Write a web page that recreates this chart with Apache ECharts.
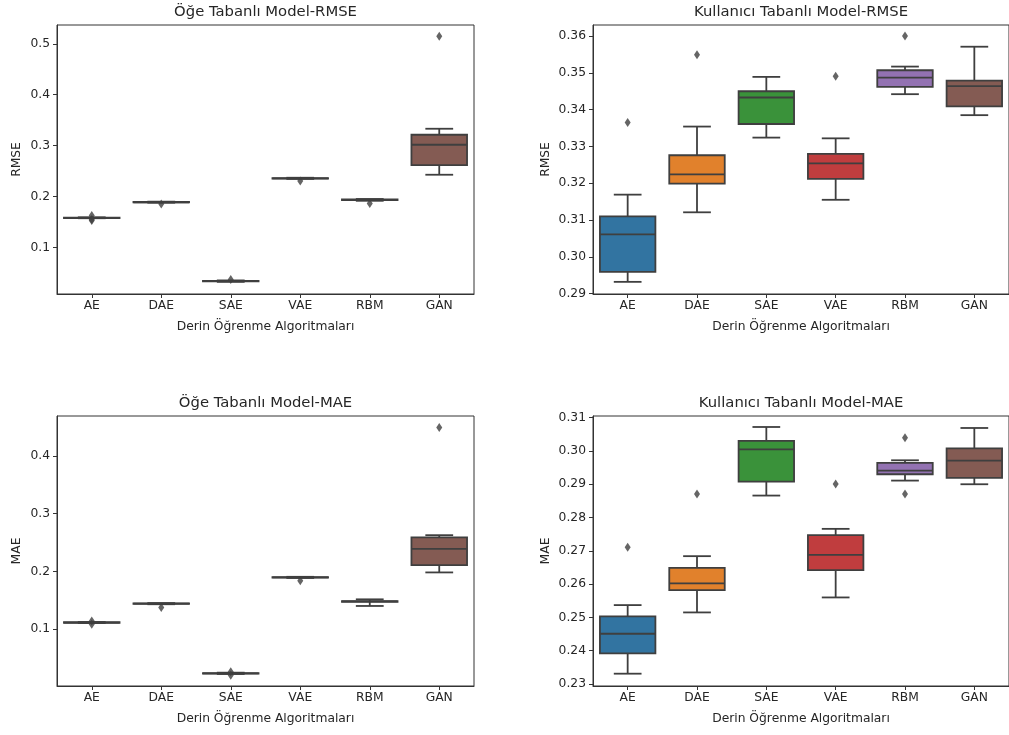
<!DOCTYPE html>
<html><head><meta charset="utf-8">
<script src="https://cdn.jsdelivr.net/npm/echarts@6/dist/echarts.min.js"></script>
<style>html,body{margin:0;padding:0;background:#fff}#c{width:1009px;height:735px}</style>
</head><body><div id="c"></div>
<script>
const categories = ['AE','DAE','SAE','VAE','RBM','GAN'];
// [whiskerLow, Q1, median, Q3, whiskerHigh]
const itemRmseBoxes = [
  [0.1572,0.1576,0.1580,0.1585,0.1590],
  [0.1878,0.1882,0.1885,0.1892,0.1898],
  [0.0322,0.0330,0.0335,0.0342,0.0350],
  [0.2345,0.2350,0.2355,0.2360,0.2368],
  [0.1915,0.1928,0.1933,0.1940,0.1950],
  [0.2427,0.2617,0.3016,0.3213,0.3331]
];
const itemRmseOutliers = [[0,0.1625],[0,0.1545],[0,0.1527],[1,0.1850],[2,0.0370],[3,0.2305],[4,0.1864],[5,0.5150]];
const userRmseBoxes = [
  [0.2932,0.2959,0.3061,0.3110,0.3169],
  [0.3121,0.3199,0.3224,0.3276,0.3354],
  [0.3324,0.3361,0.3433,0.3450,0.3489],
  [0.3155,0.3212,0.3254,0.3280,0.3322],
  [0.3442,0.3462,0.3487,0.3507,0.3517],
  [0.3385,0.3409,0.3464,0.3479,0.3571]
];
const userRmseOutliers = [[0,0.3365],[1,0.3549],[3,0.3491],[4,0.3600]];
const itemMaeBoxes = [
  [0.1105,0.1110,0.1113,0.1118,0.1122],
  [0.1430,0.1435,0.1440,0.1445,0.1450],
  [0.0222,0.0228,0.0233,0.0238,0.0245],
  [0.1885,0.1890,0.1895,0.1900,0.1905],
  [0.1400,0.1472,0.1478,0.1485,0.1515],
  [0.1981,0.2107,0.2389,0.2587,0.2626]
];
const itemMaeOutliers = [[0,0.1140],[0,0.1085],[1,0.1375],[2,0.0260],[2,0.0200],[3,0.1837],[5,0.4490]];
const userMaeBoxes = [
  [0.2331,0.2392,0.2451,0.2503,0.2537],
  [0.2515,0.2582,0.2602,0.2649,0.2684],
  [0.2866,0.2908,0.3005,0.3030,0.3072],
  [0.2560,0.2642,0.2688,0.2747,0.2766],
  [0.2911,0.2930,0.2941,0.2964,0.2972],
  [0.2900,0.2919,0.2971,0.3008,0.3069]
];
const userMaeOutliers = [[0,0.2711],[1,0.2871],[3,0.2901],[4,0.3040],[4,0.2871]];
const itemRmseTicks = [0.1,0.2,0.3,0.4,0.5];
const userRmseTicks = [0.29,0.30,0.31,0.32,0.33,0.34,0.35,0.36];
const itemMaeTicks = [0.1,0.2,0.3,0.4];
const userMaeTicks = [0.23,0.24,0.25,0.26,0.27,0.28,0.29,0.30,0.31];
const titles = ['Öğe Tabanlı Model-RMSE','Kullanıcı Tabanlı Model-RMSE','Öğe Tabanlı Model-MAE','Kullanıcı Tabanlı Model-MAE'];
const yNames = ['RMSE','RMSE','MAE','MAE'];
const xName = 'Derin Öğrenme Algoritmaları';

const COLORS = ['#3274a1','#e1812c','#3a923a','#c03d3e','#9372b2','#845b53'];
const GRAY = '#3f3f3f';
const LW = 1.8;
const FONT = 'DejaVu Sans';
const FS = 12.3;

const panels = [
  {boxes:itemRmseBoxes, out:itemRmseOutliers, ticks:itemRmseTicks, min:0.0083, max:0.537, dec:1,
   grid:{left:57,top:25,width:417,height:269}, nameGap:34},
  {boxes:userRmseBoxes, out:userRmseOutliers, ticks:userRmseTicks, min:0.2899, max:0.363, dec:2,
   grid:{left:593,top:25,width:416,height:269}, nameGap:41},
  {boxes:itemMaeBoxes, out:itemMaeOutliers, ticks:itemMaeTicks, min:0.0014, max:0.469, dec:1,
   grid:{left:57,top:416,width:417,height:270}, nameGap:34},
  {boxes:userMaeBoxes, out:userMaeOutliers, ticks:userMaeTicks, min:0.2294, max:0.3105, dec:2,
   grid:{left:593,top:416,width:416,height:270}, nameGap:41}
];

function renderBox(params, api){
  const cat = api.value(0);
  const lo = api.coord([cat, api.value(1)]);
  const q1 = api.coord([cat, api.value(2)]);
  const md = api.coord([cat, api.value(3)]);
  const q3 = api.coord([cat, api.value(4)]);
  const hi = api.coord([cat, api.value(5)]);
  const band = api.size([1,0])[0];
  const bw = band*0.8, cw = bw*0.5;
  const x = lo[0];
  const ls = {stroke:GRAY, lineWidth:LW, fill:null};
  return {type:'group', children:[
    {type:'line', shape:{x1:x,y1:q1[1],x2:x,y2:lo[1]}, style:ls},
    {type:'line', shape:{x1:x,y1:q3[1],x2:x,y2:hi[1]}, style:ls},
    {type:'line', shape:{x1:x-cw/2,y1:lo[1],x2:x+cw/2,y2:lo[1]}, style:ls},
    {type:'line', shape:{x1:x-cw/2,y1:hi[1],x2:x+cw/2,y2:hi[1]}, style:ls},
    {type:'rect', shape:{x:x-bw/2,y:q3[1],width:bw,height:Math.max(q1[1]-q3[1],0.5)}, style:{fill:COLORS[cat],stroke:GRAY,lineWidth:LW}},
    {type:'line', shape:{x1:x-bw/2,y1:md[1],x2:x+bw/2,y2:md[1]}, style:ls}
  ]};
}

const grids=[], xAxes=[], yAxes=[], series=[], graphics=[];
panels.forEach((p,i)=>{
  grids.push(Object.assign({show:true,borderColor:'#333',borderWidth:1,backgroundColor:'transparent',containLabel:false}, p.grid));
  xAxes.push({type:'category', gridIndex:i, data:categories, boundaryGap:true,
    name:xName, nameLocation:'middle', nameGap:27,
    nameTextStyle:{fontFamily:FONT,fontSize:FS,color:'#262626'},
    axisLine:{show:true,lineStyle:{color:'#333',width:1}},
    axisTick:{show:true,alignWithLabel:true,length:4,lineStyle:{color:'#333'}},
    axisLabel:{fontFamily:FONT,fontSize:FS,color:'#262626',margin:6},
    splitLine:{show:false}});
  yAxes.push({type:'value', gridIndex:i, min:p.min, max:p.max, scale:true,
    name:yNames[i], nameLocation:'middle', nameGap:p.nameGap, nameRotate:90,
    nameTextStyle:{fontFamily:FONT,fontSize:FS,color:'#262626'},
    axisLine:{show:true,lineStyle:{color:'#333',width:1}},
    axisTick:{show:true,length:4,customValues:p.ticks,lineStyle:{color:'#333'}},
    axisLabel:{fontFamily:FONT,fontSize:FS,color:'#262626',margin:7,customValues:p.ticks,
      formatter:v=>Number(v).toFixed(p.dec)},
    splitLine:{show:false}});
  series.push({type:'custom', xAxisIndex:i, yAxisIndex:i, renderItem:renderBox,
    encode:{x:0,y:[1,2,3,4,5]}, silent:true,
    data:p.boxes.map((b,k)=>[k].concat(b))});
  series.push({type:'scatter', xAxisIndex:i, yAxisIndex:i, symbol:'diamond', symbolSize:[6,9],
    itemStyle:{color:GRAY}, silent:true, data:p.out});
  graphics.push({type:'text', x:p.grid.left+p.grid.width/2, y:p.grid.top-13,
    style:{text:titles[i], fontFamily:FONT, fontSize:14.8, fill:'#262626', textAlign:'center', textVerticalAlign:'middle'}});
});

const chart = echarts.init(document.getElementById('c'), null, {renderer:'canvas'});
chart.setOption({animation:false, backgroundColor:'#fff', grid:grids, xAxis:xAxes, yAxis:yAxes, series:series, graphic:graphics});
</script></body></html>
